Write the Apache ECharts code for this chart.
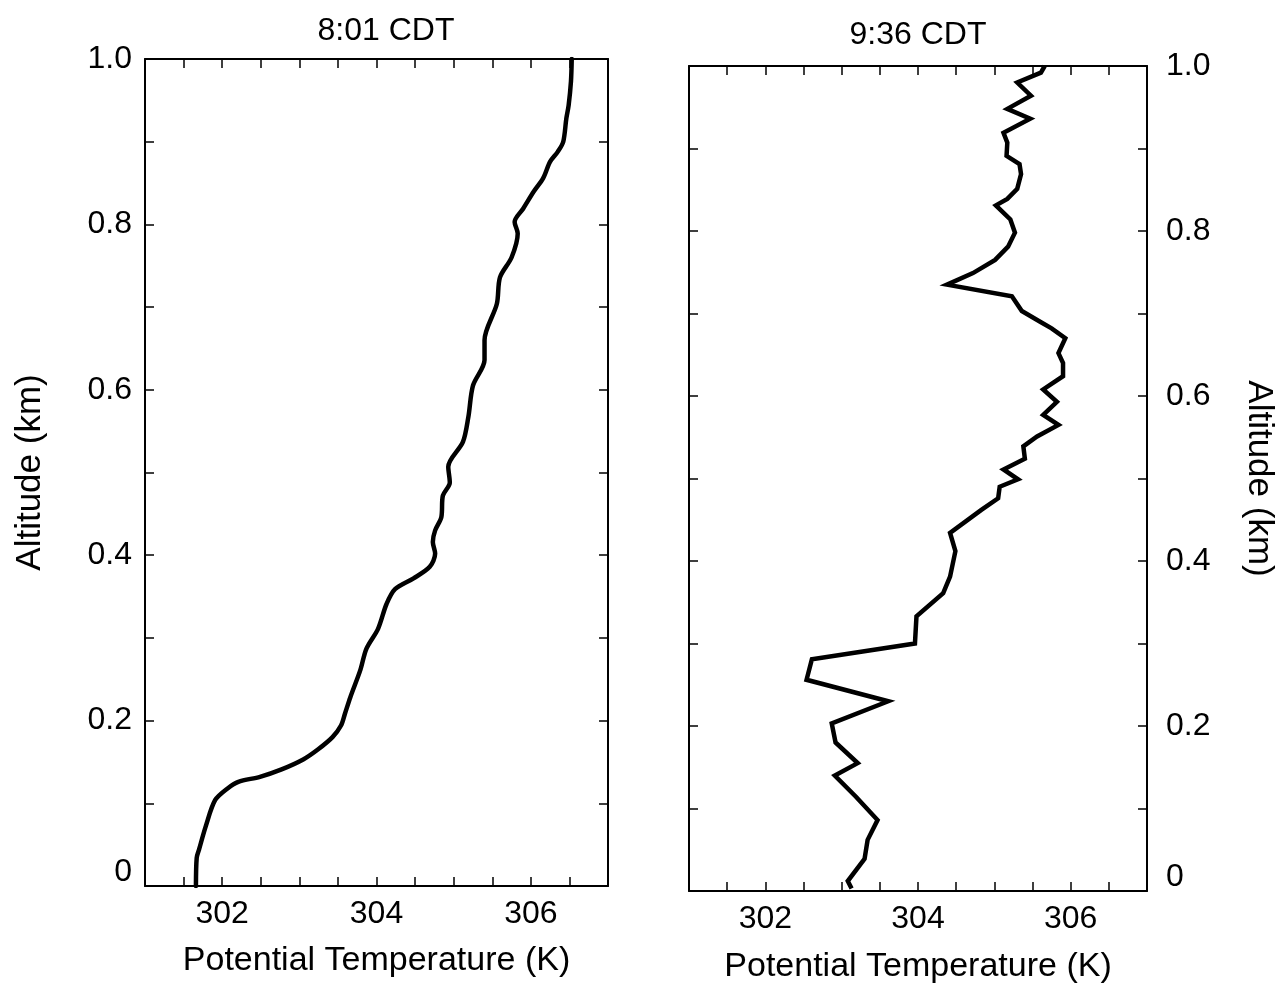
<!DOCTYPE html>
<html>
<head>
<meta charset="utf-8">
<script src="https://cdn.jsdelivr.net/npm/echarts@6/dist/echarts.min.js"></script>
<style>
  html, body { margin: 0; padding: 0; background: #fff; }
  #chart { width: 1288px; height: 990px; }
</style>
</head>
<body>
<div id="chart"></div>
<script>
// ---- Data ----
const panelTitles = ['8:01 CDT', '9:36 CDT'];
const xAxisName = 'Potential Temperature (K)';
const yAxisName = 'Altitude (km)';
const xTickLabels = [302, 304, 306];
const yTickLabels = ['0', '0.2', '0.4', '0.6', '0.8', '1.0'];

// 8:01 CDT profile
const leftAltitude = [0.000, 0.034, 0.044, 0.073, 0.104, 0.118, 0.126, 0.132, 0.141, 0.153,
  0.165, 0.180, 0.194, 0.208, 0.228, 0.261, 0.287, 0.311, 0.341, 0.359,
  0.372, 0.386, 0.402, 0.416, 0.430, 0.446, 0.472, 0.488, 0.507, 0.537,
  0.567, 0.605, 0.636, 0.660, 0.704, 0.736, 0.760, 0.789, 0.803, 0.819,
  0.840, 0.856, 0.876, 0.888, 0.900, 0.928, 0.944, 0.973, 1.000];
const leftTemp = [301.66, 301.67, 301.70, 301.79, 301.91, 302.07, 302.21, 302.49, 302.77, 303.05,
  303.24, 303.43, 303.54, 303.59, 303.66, 303.79, 303.87, 304.02, 304.13, 304.24,
  304.48, 304.69, 304.76, 304.73, 304.76, 304.84, 304.86, 304.95, 304.93, 305.12,
  305.19, 305.25, 305.40, 305.40, 305.56, 305.60, 305.75, 305.83, 305.79, 305.90,
  306.04, 306.16, 306.25, 306.35, 306.42, 306.46, 306.49, 306.52, 306.53];

// 9:36 CDT profile
const rightAltitude = [0.003, 0.012, 0.039, 0.062, 0.086, 0.114, 0.140, 0.155, 0.180, 0.203,
  0.230, 0.256, 0.281, 0.300, 0.333, 0.361, 0.381, 0.412, 0.434, 0.462,
  0.476, 0.490, 0.499, 0.511, 0.524, 0.539, 0.551, 0.565, 0.577, 0.593,
  0.608, 0.624, 0.640, 0.652, 0.670, 0.682, 0.690, 0.703, 0.721, 0.735,
  0.749, 0.765, 0.781, 0.798, 0.814, 0.831, 0.839, 0.851, 0.869, 0.881,
  0.891, 0.907, 0.919, 0.936, 0.948, 0.964, 0.980, 0.992, 1.000];
const rightTemp = [303.13, 303.08, 303.30, 303.34, 303.47, 303.19, 302.91, 303.21, 302.92, 302.87,
  303.61, 302.54, 302.61, 303.96, 303.98, 304.33, 304.42, 304.49, 304.42, 304.83,
  305.05, 305.07, 305.31, 305.12, 305.40, 305.38, 305.56, 305.84, 305.64, 305.82,
  305.64, 305.90, 305.90, 305.84, 305.93, 305.75, 305.60, 305.36, 305.23, 304.38,
  304.72, 305.01, 305.18, 305.27, 305.21, 305.02, 305.17, 305.30, 305.35, 305.33,
  305.16, 305.17, 305.12, 305.47, 305.17, 305.48, 305.30, 305.61, 305.66];

// ---- Chart ----
const FONT = 'Liberation Sans, Arial, Helvetica, sans-serif';
const leftPairs = leftTemp.map((t, i) => [t, leftAltitude[i]]);
const rightPairs = rightTemp.map((t, i) => [t, rightAltitude[i]]);

function xLabelFmt(v) {
  const r = Math.round(v * 10) / 10;
  return xTickLabels.indexOf(r) >= 0 ? String(r) : '';
}
function yLabelFmt(v) {
  const k = Math.round(v * 10);
  if (k % 2 !== 0) return '';
  const s = yTickLabels[k / 2];
  if (k === 0) return '{z|' + s + '}';
  return s;
}

const lineStyleAxis = { color: '#000', width: 2 };
const tickStyle = { inside: true, length: 9, lineStyle: { color: '#000', width: 1.5 } };

function xAxes(grid, nameGap) {
  return [
    {
      type: 'value', gridIndex: grid, position: 'bottom', min: 301, max: 307, interval: 0.5,
      axisLine: { show: true, onZero: false, lineStyle: lineStyleAxis },
      axisTick: tickStyle, splitLine: { show: false },
      axisLabel: { formatter: xLabelFmt, color: '#000', fontFamily: FONT, fontSize: 32, margin: 12, showMinLabel: true, showMaxLabel: true },
      name: xAxisName, nameLocation: 'middle', nameGap: nameGap,
      nameTextStyle: { color: '#000', fontFamily: FONT, fontSize: 34 }
    },
    {
      type: 'value', gridIndex: grid, position: 'top', min: 301, max: 307, interval: 0.5,
      axisLine: { show: true, onZero: false, lineStyle: lineStyleAxis },
      axisTick: tickStyle, splitLine: { show: false }, axisLabel: { show: false }
    }
  ];
}
function yAxis(grid, pos, withLabels, nameGap, nameRotate) {
  const a = {
    type: 'value', gridIndex: grid, position: pos, min: 0, max: 1, interval: 0.1,
    axisLine: { show: true, onZero: false, lineStyle: lineStyleAxis },
    axisTick: tickStyle, splitLine: { show: false },
    axisLabel: { show: false }
  };
  if (withLabels) {
    a.axisLabel = {
      show: true, formatter: yLabelFmt, color: '#000', fontFamily: FONT, fontSize: 32,
      margin: pos === 'left' ? 13 : 19, showMinLabel: true, showMaxLabel: true,
      rich: { z: { fontFamily: FONT, fontSize: 32, color: '#000', padding: [0, 0, 28, 0] } }
    };
    a.name = yAxisName;
    a.nameLocation = 'middle';
    a.nameGap = nameGap;
    a.nameRotate = nameRotate;
    a.nameTextStyle = { color: '#000', fontFamily: FONT, fontSize: 35 };
  }
  return a;
}

const option = {
  backgroundColor: '#fff',
  animation: false,
  title: [
    { text: panelTitles[0], left: 381, top: 10, textAlign: 'center',
      textStyle: { color: '#000', fontFamily: FONT, fontSize: 32, fontWeight: 'normal' } },
    { text: panelTitles[1], left: 913, top: 14, textAlign: 'center',
      textStyle: { color: '#000', fontFamily: FONT, fontSize: 32, fontWeight: 'normal' } }
  ],
  grid: [
    { left: 145, top: 59, width: 463, height: 827 },
    { left: 689, top: 66, width: 458, height: 825 }
  ],
  xAxis: [].concat(xAxes(0, 58), xAxes(1, 59)),
  yAxis: [
    yAxis(0, 'left', true, 97, 90),
    yAxis(0, 'right', false),
    yAxis(1, 'left', false),
    yAxis(1, 'right', true, 94, -90)
  ],
  series: [
    { type: 'line', xAxisIndex: 0, yAxisIndex: 0, data: leftPairs, showSymbol: false, smooth: 0.3,
      lineStyle: { color: '#000', width: 4.5, join: 'round', cap: 'round' }, itemStyle: { color: '#000' } },
    { type: 'line', xAxisIndex: 2, yAxisIndex: 3, data: rightPairs, showSymbol: false, smooth: false,
      lineStyle: { color: '#000', width: 4.5, join: 'miter', miterLimit: 6 }, itemStyle: { color: '#000' } }
  ]
};

const chart = echarts.init(document.getElementById('chart'), null, { renderer: 'canvas' });
chart.setOption(option);
</script>
</body>
</html>
